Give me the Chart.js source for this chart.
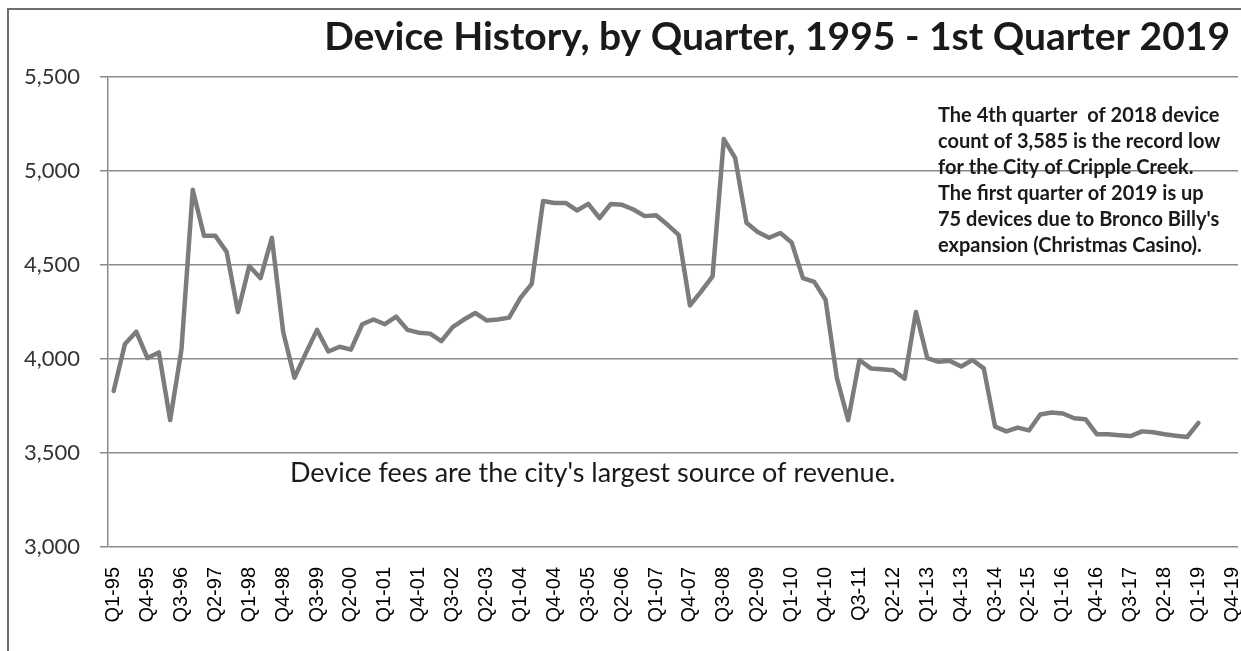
<!DOCTYPE html>
<html>
<head>
<meta charset="utf-8">
<title>Device History, by Quarter</title>
<script src="https://cdn.jsdelivr.net/npm/chart.js@4.4.1/dist/chart.umd.min.js"></script>
<style>
    html, body { margin: 0; padding: 0; background: #fff; }
    #wrap { position: relative; width: 1241px; height: 651px; }
</style>
</head>
<body>
<div id="wrap"><canvas id="deviceChart" width="1241" height="651"></canvas></div>
<script>
// Quarter axis runs Q1-95 .. Q4-19, the count stops at Q1-19
const years = ['95', '96', '97', '98', '99', '00', '01', '02', '03', '04', '05', '06', '07',
               '08', '09', '10', '11', '12', '13', '14', '15', '16', '17', '18', '19'];
const quarters = ['Q1', 'Q2', 'Q3', 'Q4'];

// Device count per quarter
const devices = [
    3830, 4080, 4145, 4005, 4035, 3675, 4050, 4900, 4655, 4655,
    4570, 4250, 4495, 4430, 4645, 4145, 3900, 4030, 4155, 4040,
    4065, 4050, 4185, 4210, 4185, 4225, 4155, 4140, 4135, 4095,
    4170, 4210, 4245, 4205, 4210, 4220, 4325, 4400, 4840, 4830,
    4830, 4790, 4825, 4750, 4825, 4820, 4795, 4760, 4765, 4715,
    4660, 4285, 4360, 4440, 5170, 5070, 4725, 4675, 4645, 4670,
    4620, 4430, 4410, 4315, 3900, 3675, 3995, 3950, 3945, 3940,
    3895, 4250, 4005, 3985, 3990, 3960, 3995, 3950, 3640, 3615,
    3635, 3620, 3705, 3715, 3710, 3685, 3680, 3600, 3600, 3595,
    3590, 3615, 3610, 3600, 3592, 3585, 3660
];

const yTicks = [3000, 3500, 4000, 4500, 5000, 5500];

const titleText = 'Device History, by Quarter, 1995 - 1st Quarter 2019';
const noteText = "Device fees are the city's largest source of revenue.";
const annotationLines = [
    'The 4th quarter  of 2018 device',
    'count of 3,585 is the record low',
    'for the City of Cripple Creek.',
    'The first quarter of 2019 is up',
    "75 devices due to Bronco Billy's",
    'expansion (Christmas Casino).'
];

const labels = [];
years.forEach(y => quarters.forEach(q => labels.push(q + '-' + y)));

// Frame, title and the two text boxes
const textPlugin = {
    id: 'chartTexts',
    beforeDraw(chart) {
        const ctx = chart.ctx;
        ctx.save();
        ctx.fillStyle = '#fff';
        ctx.fillRect(0, 0, chart.width, chart.height);
        ctx.strokeStyle = '#6e6e6e';
        ctx.lineWidth = 2;
        ctx.beginPath();
        ctx.moveTo(8, chart.height);
        ctx.lineTo(8, 9);
        ctx.lineTo(chart.width, 9);
        ctx.stroke();
        ctx.restore();
    },
    afterDraw(chart) {
        const ctx = chart.ctx;
        ctx.save();
        ctx.fillStyle = '#1a1a1a';
        ctx.textBaseline = 'alphabetic';

        ctx.font = 'bold 39px Lato';
        ctx.textAlign = 'right';
        ctx.fillText(titleText, 1230, 50);

        ctx.font = '27px Lato';
        ctx.textAlign = 'left';
        ctx.fillText(noteText, 290, 482);

        ctx.font = 'bold 20px Lato';
        annotationLines.forEach((line, i) => {
            ctx.fillText(line, 938, 122 + i * 26);
        });
        ctx.restore();
    }
};

const ctx = document.getElementById('deviceChart').getContext('2d');
const chart = new Chart(ctx, {
    type: 'line',
    data: {
        labels: labels,
        datasets: [{
            label: 'Devices',
            data: devices,
            borderColor: '#7c7c7c',
            borderWidth: 4.5,
            pointRadius: 0,
            tension: 0,
            borderJoinStyle: 'round',
            borderCapStyle: 'round',
            fill: false
        }]
    },
    options: {
        responsive: false,
        animation: false,
        layout: {
            padding: { top: 77, right: 3, left: 0, bottom: 0 }
        },
        plugins: {
            legend: { display: false },
            tooltip: { enabled: false }
        },
        scales: {
            x: {
                offset: true,
                grid: { display: false },
                border: { display: false },
                ticks: {
                    autoSkip: false,
                    minRotation: 90,
                    maxRotation: 90,
                    padding: 12,
                    color: '#000',
                    font: { family: 'Liberation Sans', size: 20 },
                    callback: function(value, index) {
                        return index % 3 === 0 ? this.getLabelForValue(value) : '';
                    }
                },
                afterFit: function(scale) {
                    scale.paddingLeft = 0;
                    scale.paddingRight = 0;
                    scale.height = 104;
                }
            },
            y: {
                min: yTicks[0],
                max: yTicks[yTicks.length - 1],
                afterBuildTicks: function(scale) {
                    scale.ticks = yTicks.map(v => ({ value: v }));
                },
                grid: {
                    color: '#8a8a8a',
                    lineWidth: 1.5,
                    tickLength: 8,
                    tickColor: '#8a8a8a'
                },
                border: { color: '#8a8a8a', width: 1.5 },
                ticks: {
                    padding: 20,
                    color: '#333',
                    font: { family: 'Lato', size: 22 },
                    callback: v => v.toLocaleString('en-US')
                },
                afterFit: function(scale) {
                    scale.width = 108;
                }
            }
        }
    },
    plugins: [textPlugin]
});
</script>
</body>
</html>
